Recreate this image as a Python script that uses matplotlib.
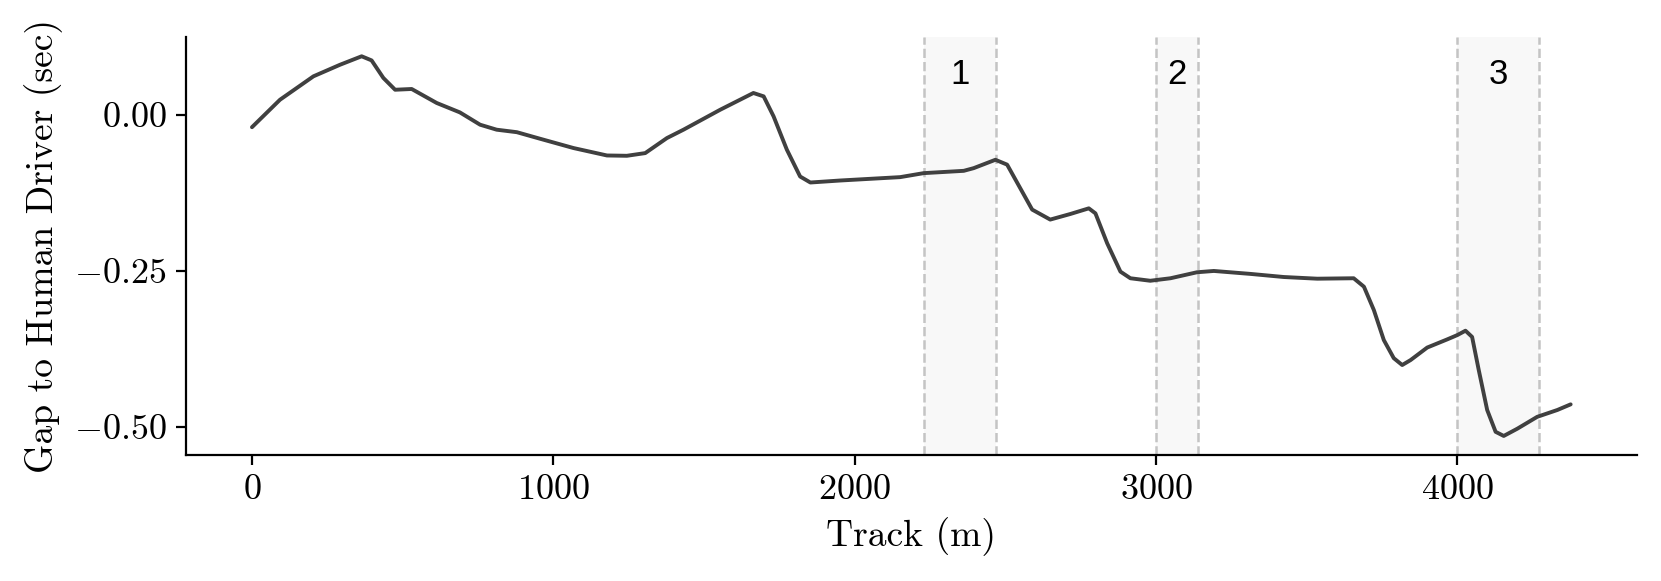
import numpy as np
import matplotlib
matplotlib.use("Agg")
import matplotlib.pyplot as plt
from matplotlib.ticker import FuncFormatter

# ----------------- data -----------------
track = [0, 93, 204, 292, 364, 397, 436, 475, 530, 613, 690, 757, 812, 879,
         956, 1067, 1178, 1244, 1305, 1377, 1432, 1554, 1664, 1698, 1731,
         1775, 1819, 1853, 1952, 2151, 2229, 2362, 2395, 2467, 2506, 2589,
         2649, 2716, 2777, 2799, 2838, 2882, 2915, 2981, 3048, 3136, 3192,
         3313, 3424, 3535, 3656, 3690, 3723, 3756, 3789, 3817, 3845, 3900,
         3966, 4000, 4027, 4049, 4071, 4099, 4127, 4154, 4199, 4265, 4332,
         4376]
gap = [-0.020, 0.024, 0.0615, 0.080, 0.0936, 0.087, 0.0589, 0.040, 0.0412,
       0.0188, 0.0037, -0.016, -0.024, -0.028, -0.0385, -0.0534, -0.0653,
       -0.0658, -0.0615, -0.0374, -0.024, 0.008, 0.0348, 0.0294, -0.0027,
       -0.056, -0.099, -0.1086, -0.1054, -0.100, -0.0936, -0.0899, -0.0856,
       -0.0722, -0.080, -0.152, -0.168, -0.159, -0.150, -0.158, -0.206,
       -0.2514, -0.262, -0.266, -0.262, -0.2524, -0.2503, -0.255, -0.260,
       -0.2627, -0.262, -0.2755, -0.313, -0.361, -0.390, -0.401, -0.393,
       -0.373, -0.360, -0.353, -0.346, -0.356, -0.409, -0.473, -0.508,
       -0.5146, -0.503, -0.484, -0.473, -0.464]

zones = [(2230, 2470), (3000, 3140), (4000, 4270)]
zone_labels = ["1", "2", "3"]

xticks = [0, 1000, 2000, 3000, 4000]
yticks = [0.0, -0.25, -0.50]

# ----------------- style -----------------
plt.rcParams["font.family"] = "serif"
plt.rcParams["font.serif"] = ["cmr10"]
plt.rcParams["mathtext.fontset"] = "cm"
plt.rcParams["axes.formatter.use_mathtext"] = True
plt.rcParams["axes.unicode_minus"] = False

fig = plt.figure(figsize=(8.305, 2.905), dpi=200)
ax = fig.add_axes([0.112, 0.217, 0.8733, 0.7188])

for (a, b), lab in zip(zones, zone_labels):
    ax.axvspan(a, b, facecolor="#f8f8f8", edgecolor="none", zorder=0)
    ax.axvline(a, color="#c4c4c4", ls="--", lw=0.9, zorder=1)
    ax.axvline(b, color="#c4c4c4", ls="--", lw=0.9, zorder=1)
    ax.text((a + b) / 2, 0.91, lab, transform=ax.get_xaxis_transform(),
            ha="center", va="center", fontsize=12.5, family="Liberation Sans")

ax.plot(track, gap, color="#404040", lw=1.4, zorder=3,
        solid_joinstyle="round", solid_capstyle="round")

ax.set_xticks(xticks)
ax.set_yticks(yticks)
ax.xaxis.set_major_formatter(FuncFormatter(lambda v, p: r"$%d$" % v))
ax.yaxis.set_major_formatter(FuncFormatter(lambda v, p: r"$%.2f$" % v))
ax.tick_params(labelsize=13, width=0.8, length=3.5)

ax.set_xlabel("Track (m)", fontsize=13.5, labelpad=4)
ax.set_ylabel("Gap to Human Driver (sec)", fontsize=13.5, labelpad=4)

for s in ["top", "right"]:
    ax.spines[s].set_visible(False)
for s in ["left", "bottom"]:
    ax.spines[s].set_linewidth(0.8)

fig.savefig("out.png", dpi=200)
